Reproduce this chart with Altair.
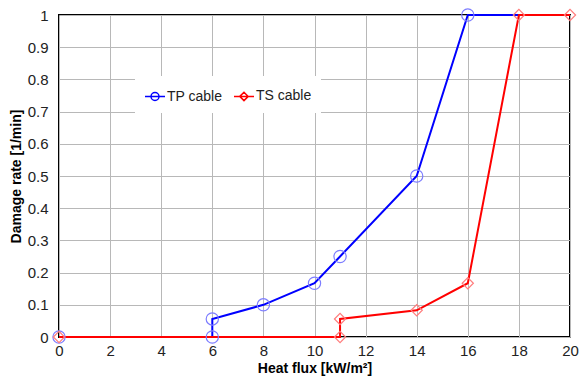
import altair as alt
import pandas as pd

# ---- data ----
series_names = ["TP cable", "TS cable"]
tp_x = [0, 6, 6, 8, 10, 11, 14, 16, 20]
tp_y = [0, 0, 0.056, 0.1, 0.167, 0.25, 0.5, 1, 1]
tp_marker = [True, True, True, True, True, True, True, True, False]
ts_x = [0, 11, 11, 14, 16, 18, 20]
ts_y = [0, 0, 0.056, 0.083, 0.167, 1, 1]
ts_marker = [True, True, True, True, True, True, True]

line_colors = ["#0000ff", "#ff0000"]
marker_colors = ["#7d7dff", "#ff7d7d"]
marker_shapes = ["circle", "diamond"]
legend_shapes = [
    "M-1,0H1M-0.4,0A0.4,0.4 0 1,0 0.4,0A0.4,0.4 0 1,0 -0.4,0",
    "M-1,0H1M-0.42,0L0,-0.42L0.42,0L0,0.42Z",
]
x_ticks = list(range(0, 21, 2))
y_ticks = [round(i * 0.1, 1) for i in range(11)]

rows = []
for name, xs, ys, ms in [(series_names[0], tp_x, tp_y, tp_marker),
                         (series_names[1], ts_x, ts_y, ts_marker)]:
    for i, (xv, yv, mv) in enumerate(zip(xs, ys, ms)):
        rows.append({"series": name, "x": xv, "y": yv, "order": i, "marker": mv})
df = pd.DataFrame(rows)

FONT = "Liberation Sans"

x_enc = alt.X("x:Q", scale=alt.Scale(domain=[0, 20], nice=False),
              axis=alt.Axis(values=x_ticks, format="~g", title="Heat flux [kW/m²]"))
y_enc = alt.Y("y:Q", scale=alt.Scale(domain=[0, 1], nice=False),
              axis=alt.Axis(values=y_ticks, format="~g", title="Damage rate [1/min]"))

base = alt.Chart(df)

legend_layer = base.mark_point(filled=False, opacity=0, strokeWidth=1.5).encode(
    x=x_enc, y=y_enc,
    color=alt.Color("series:N", scale=alt.Scale(domain=series_names, range=line_colors),
                    legend=alt.Legend(title=None)),
    shape=alt.Shape("series:N", scale=alt.Scale(domain=series_names, range=legend_shapes),
                    legend=alt.Legend(title=None)),
)

lines = base.mark_line(strokeWidth=2).encode(
    x=x_enc, y=y_enc,
    color=alt.Color("series:N", scale=alt.Scale(domain=series_names, range=line_colors),
                    legend=None),
    detail="series:N",
    order="order:Q",
)

markers = []
for name, col, shp, sz in zip(series_names, marker_colors, marker_shapes, [150, 125]):
    markers.append(
        base.transform_filter(
            (alt.datum.series == name) & (alt.datum.marker == True)
        ).mark_point(filled=False, shape=shp, size=sz, stroke=col, strokeWidth=1.2, opacity=1).encode(
            x=x_enc, y=y_enc
        )
    )

chart = alt.layer(legend_layer, lines, *markers).resolve_legend(
    color="independent", shape="independent"
).properties(
    width=511, height=322,
    autosize=alt.AutoSizeParams(type="none"),
    padding={"left": 51, "top": 7, "right": 9, "bottom": 44},
).configure_view(
    stroke="black", strokeWidth=2
).configure_axis(
    grid=True, gridColor="#b8b8b8", gridWidth=1, domain=False, ticks=False,
    labelFlush=False,
    labelFont=FONT, labelFontSize=15, labelColor="#222222",
    titleFont=FONT, titleFontSize=14, titleFontWeight="bold", titleColor="black",
).configure_axisX(
    labelPadding=6, titlePadding=3,
).configure_axisY(
    labelPadding=11, titlePadding=4,
).configure_legend(
    orient="none", legendX=76, legendY=61, direction="horizontal",
    fillColor="white", padding=9, labelFont=FONT, labelFontSize=14,
    labelColor="#222222", symbolSize=400, symbolStrokeWidth=1.5,
    symbolOpacity=1, columnPadding=8, labelOffset=1,
)

chart.save("out.html", embed_options={"renderer": "svg", "actions": False})
